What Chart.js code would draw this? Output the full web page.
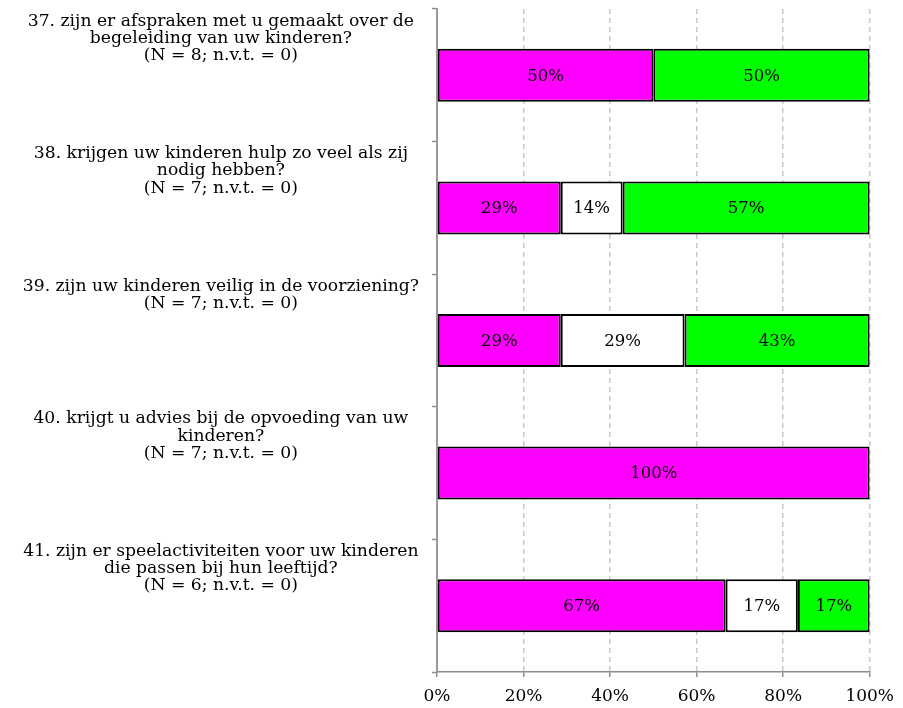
<!DOCTYPE html>
<html>
<head>
<meta charset="utf-8">
<script src="https://cdn.jsdelivr.net/npm/chart.js@4/dist/chart.umd.min.js"></script>
<style>
  html, body { margin: 0; padding: 0; background: #ffffff; }
  #wrap { width: 903px; height: 708px; position: relative; }
</style>
</head>
<body>
<div id="wrap"><canvas id="c"></canvas></div>
<script>
// ---- Data ----
const categories = [
  ["37. zijn er afspraken met u gemaakt over de", "begeleiding van uw kinderen?", "(N = 8; n.v.t. = 0)"],
  ["38. krijgen uw kinderen hulp zo veel als zij", "nodig hebben?", "(N = 7; n.v.t. = 0)"],
  ["39. zijn uw kinderen veilig in de voorziening?", "(N = 7; n.v.t. = 0)", ""],
  ["40. krijgt u advies bij de opvoeding van uw", "kinderen?", "(N = 7; n.v.t. = 0)"],
  ["41. zijn er speelactiviteiten voor uw kinderen", "die passen bij hun leeftijd?", "(N = 6; n.v.t. = 0)"]
];
const seriesNames = ["ja", "soms", "nee"];
const seriesMagenta = [50, 28.6, 28.6, 100, 66.7];
const seriesWhite   = [0, 14.3, 28.6, 0, 16.7];
const seriesGreen   = [50, 57.1, 42.8, 0, 16.6];
const xTicks = [0, 20, 40, 60, 80, 100];

const FONT = "'DejaVu Serif', 'Liberation Serif', serif";

const barLabels = {
  id: 'barLabels',
  afterDatasetsDraw(chart) {
    const ctx = chart.ctx;
    ctx.save();
    ctx.font = "16.5px " + FONT;
    ctx.fillStyle = "#000000";
    ctx.textAlign = "center";
    ctx.textBaseline = "middle";
    chart.data.datasets.forEach((ds, i) => {
      const meta = chart.getDatasetMeta(i);
      meta.data.forEach((bar, j) => {
        const v = ds.data[j];
        if (!v) return;
        const p = bar.getProps(['x', 'y', 'base'], true);
        ctx.fillText(Math.round(v) + "%", (p.x + p.base) / 2, p.y + 1);
      });
    });
    ctx.restore();
  }
};

const mk = (label, data, color) => ({
  label, data,
  backgroundColor: color,
  borderColor: "#000000",
  borderWidth: 2,
  borderSkipped: false,
  barPercentage: 0.4,
  categoryPercentage: 1.0
});

new Chart(document.getElementById('c'), {
  type: 'bar',
  data: {
    labels: categories,
    datasets: [
      mk(seriesNames[0], seriesMagenta, "#FF00FF"),
      mk(seriesNames[1], seriesWhite, "#FFFFFF"),
      mk(seriesNames[2], seriesGreen, "#00FF00")
    ]
  },
  options: {
    indexAxis: 'y',
    responsive: true,
    maintainAspectRatio: false,
    animation: false,
    layout: { padding: { top: 9, right: 33, left: 0, bottom: 0 } },
    plugins: {
      legend: { display: false },
      tooltip: { enabled: false }
    },
    scales: {
      x: {
        stacked: true,
        min: 0,
        max: 100,
        afterBuildTicks: (s) => { s.ticks = xTicks.map(v => ({ value: v })); },
        afterFit: (s) => { s.height = 36; s.paddingLeft = 0; },
        ticks: {
          callback: (v) => v + "%",
          color: "#000000",
          font: { family: FONT, size: 17 },
          padding: 9,
          maxRotation: 0
        },
        grid: {
          color: "#c8c8c8",
          lineWidth: 1.5,
          drawTicks: true,
          tickLength: 5,
          tickColor: "#8c8c8c",
          tickWidth: 1.5,
          tickBorderDash: []
        },
        border: { display: true, color: "#8c8c8c", width: 1.5, dash: [5, 4] }
      },
      y: {
        stacked: true,
        afterFit: (s) => { s.width = 437; s.paddingTop = 0; s.paddingBottom = 0; },
        ticks: {
          color: "#000000",
          font: { family: FONT, size: 17.2, lineHeight: 1.0 },
          crossAlign: 'center',
          padding: 13,
          labelOffset: -37,
          autoSkip: false
        },
        grid: {
          drawOnChartArea: false,
          drawTicks: true,
          tickLength: 5,
          tickColor: "#8c8c8c",
          tickWidth: 1.5,
          offset: true
        },
        border: { display: true, color: "#9a9a9a", width: 2 }
      }
    }
  },
  plugins: [barLabels]
});
</script>
</body>
</html>
